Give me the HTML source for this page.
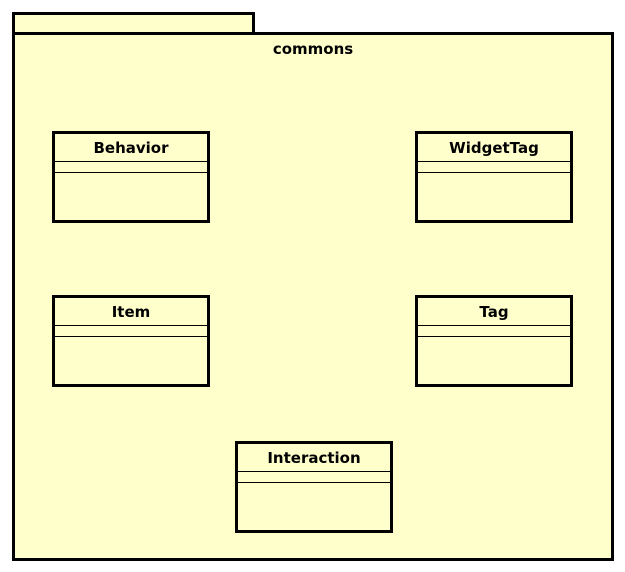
<!DOCTYPE html>
<html><head><style>
body{margin:0;width:625px;height:572px;background:#fff;position:relative;font-family:"DejaVu Sans","Liberation Sans",sans-serif;}
.b{position:absolute;box-sizing:border-box;background:#ffffcc;border:3px solid #000;}
.c{position:absolute;box-sizing:border-box;background:#ffffcc;border:3px solid #000;width:158px;height:92px;}
.c .t{position:absolute;left:0;right:0;top:5px;text-align:center;font-weight:bold;font-size:15px;}
.c .l1{position:absolute;left:0;right:0;top:27px;border-top:1px solid #000;}
.c .l2{position:absolute;left:0;right:0;top:38px;border-top:1px solid #000;}
</style></head><body>
<div class="b" style="left:12px;top:12px;width:243px;height:23px;"></div>
<div class="b" style="left:12px;top:32px;width:602px;height:529px;"></div>
<div style="position:absolute;left:12px;width:602px;top:40px;text-align:center;font-weight:bold;font-size:15px;">commons</div>
<div class="c" style="left:52px;top:131px;"><div class="t">Behavior</div><div class="l1"></div><div class="l2"></div></div>
<div class="c" style="left:415px;top:131px;"><div class="t">WidgetTag</div><div class="l1"></div><div class="l2"></div></div>
<div class="c" style="left:52px;top:295px;"><div class="t">Item</div><div class="l1"></div><div class="l2"></div></div>
<div class="c" style="left:415px;top:295px;"><div class="t">Tag</div><div class="l1"></div><div class="l2"></div></div>
<div class="c" style="left:235px;top:441px;"><div class="t">Interaction</div><div class="l1"></div><div class="l2"></div></div>
</body></html>
